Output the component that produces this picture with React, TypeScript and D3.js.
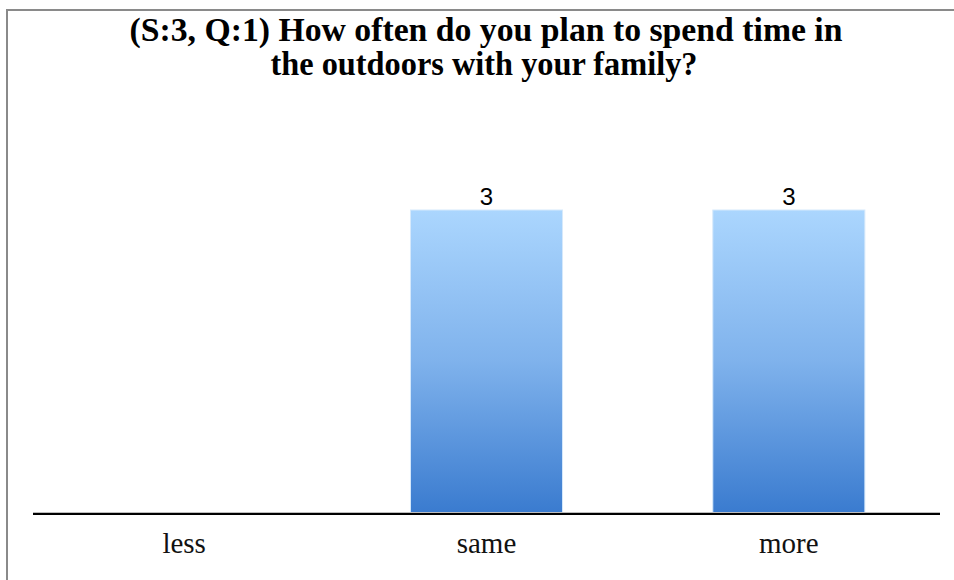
import React from "react";
import * as d3 from "d3";

const title1 = "(S:3, Q:1) How often do you plan to spend time in";
const title2 = "the outdoors with your family?";
const categories = ["less", "same", "more"];
const counts: (number | null)[] = [null, 3, 3];

const W = 954;
const H = 580;

export default function App() {
  const x = d3
    .scaleBand<string>()
    .domain(categories)
    .range([33, 940])
    .paddingInner(0.497)
    .paddingOuter(0.2485);
  const y = d3.scaleLinear().domain([0, 4]).range([513, 109]);
  const bw = x.bandwidth();

  return (
    <svg
      width={W}
      height={H}
      style={{ position: "absolute", left: 0, top: 0, background: "#fff" }}
    >
      <defs>
        <linearGradient id="barGrad" x1="0" y1="0" x2="0" y2="1">
          <stop offset="0%" stopColor="#abd6fe" />
          <stop offset="50%" stopColor="#7fb2ec" />
          <stop offset="100%" stopColor="#3a7bcf" />
        </linearGradient>
      </defs>
      {/* frame */}
      <path d={`M7,${H} V10 H${W}`} fill="none" stroke="#8a8a8a" strokeWidth={2} />

      {/* title */}
      <text
        x={486}
        y={41}
        textAnchor="middle"
        fontFamily="Liberation Serif, serif"
        fontWeight="bold"
        fontSize={34}
        textLength={713}
        lengthAdjust="spacingAndGlyphs"
        fill="#000"
      >
        {title1}
      </text>
      <text
        x={484}
        y={75}
        textAnchor="middle"
        fontFamily="Liberation Serif, serif"
        fontWeight="bold"
        fontSize={34}
        textLength={427}
        lengthAdjust="spacingAndGlyphs"
        fill="#000"
      >
        {title2}
      </text>

      {/* bars */}
      {categories.map((c, i) => {
        const v = counts[i];
        if (v == null) return null;
        const x0 = x(c)!;
        return (
          <g key={c}>
            <rect
              x={x0}
              y={y(v)}
              width={bw}
              height={y(0) - y(v)}
              fill="url(#barGrad)"
              stroke="#d6e9fb"
              strokeWidth={1}
            />
            <text
              x={x0 + bw / 2}
              y={y(v) - 5}
              textAnchor="middle"
              fontFamily="Liberation Sans, Arial, sans-serif"
              fontSize={24}
              fill="#000"
            >
              {v}
            </text>
          </g>
        );
      })}

      {/* axis */}
      <line x1={33} x2={940} y1={512.5} y2={512.5} stroke="#bdbdbd" strokeWidth={1} />
      <line x1={33} x2={940} y1={514} y2={514} stroke="#000" strokeWidth={2} />

      {/* category labels */}
      {categories.map((c) => (
        <text
          key={c}
          x={x(c)! + bw / 2}
          y={553}
          textAnchor="middle"
          fontFamily="Liberation Serif, serif"
          fontSize={29}
          fill="#111"
        >
          {c}
        </text>
      ))}
    </svg>
  );
}
